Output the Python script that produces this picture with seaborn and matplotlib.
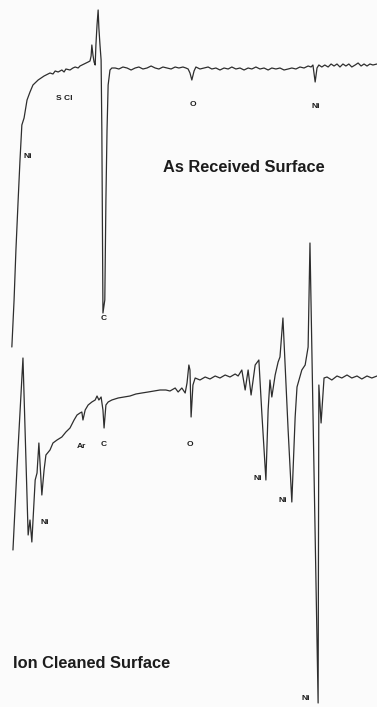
import numpy as np
import pandas as pd
import matplotlib
matplotlib.use("Agg")
import matplotlib.pyplot as plt
import seaborn as sns

# --------------------------------------------------------------
# 1. Data (dN/dE, arb. units)
# --------------------------------------------------------------

# As received surface: electron energy (eV) and derivative signal
received_energy = [
    23, 29, 34, 40, 45, 50, 56, 64, 72, 80, 94, 110, 126, 134, 140, 148,
    158, 164, 169, 180, 188, 194, 202, 207, 218, 229, 234, 237, 239, 242,
    245, 248, 250, 253, 256, 258, 261, 264, 266, 269, 274, 277, 280, 283,
    288, 293, 302, 312, 323, 334, 345, 356, 366, 377, 388, 399, 410, 420,
    431, 442, 453, 464, 474, 485, 493, 499, 504, 509, 515, 520, 531, 542,
    553, 563, 574, 585, 596, 607, 617, 628, 639, 650, 661, 671, 682, 693,
    704, 715, 725, 736, 747, 758, 769, 779, 790, 801, 812, 823, 831, 836,
    842, 847, 852, 860, 868, 877, 885, 893, 901, 909, 917, 925, 933, 941,
    950, 958, 966, 974, 982, 990, 998, 1009,
]
received_signal = [
    -279, -232, -182, -132, -92, -57, -50, -32, -24, -17, -12, -8, -5, -6,
    -3, -4, -2, -4, -1, -2, 0, 1, 0, 2, 4, 6, 7, 12, 23, 13,
    6, 3, 23, 43, 58, 40, 23, 8, -62, -245, -232, -132, -62, -17,
    -2, 0, 0, -1, 1, 0, -2, 0, 1, -1, 0, 2, 0, -1,
    1, 0, -1, 1, 0, 1, 0, -1, -5, -12, -3, 1, -1, 0,
    1, -1, 0, -2, 0, -1, 1, -1, 0, -2, 0, -1, 1, -1,
    0, -2, 0, -1, 0, -2, -1, 0, -1, 1, 0, 2, 1, 3,
    -14, 0, 3, 1, 3, 1, 4, 2, 4, 1, 4, 2, 4, 1,
    3, 5, 2, 4, 2, 4, 3, 4,
]

# Ion cleaned surface
cleaned_energy = [
    26, 37, 53, 67, 72, 77, 86, 91, 96, 104, 110, 115, 126, 134, 145, 158,
    169, 180, 191, 199, 207, 212, 215, 221, 229, 239, 248, 253, 258, 264,
    269, 272, 277, 283, 293, 310, 326, 342, 358, 374, 391, 407, 423, 439,
    450, 464, 472, 482, 491, 496, 501, 504, 507, 512, 518, 531, 545, 558,
    572, 585, 599, 612, 626, 634, 644, 653, 661, 669, 680, 690, 698, 709,
    715, 720, 725, 734, 742, 747, 755, 769, 779, 788, 793, 806, 815, 823,
    828, 850, 852, 858, 866, 874, 887, 901, 914, 928, 941, 955, 968, 982,
    995, 1009,
]
cleaned_signal = [
    -172, -89, 20, -157, -142, -164, -102, -95, -65, -117, -92, -77, -72,
    -65, -62, -59, -54, -50, -42, -37, -35, -34, -42, -32, -27, -24, -22,
    -18, -22, -19, -32, -50, -27, -24, -22, -20, -19, -18, -16, -15, -14,
    -13, -12, -12, -13, -10, -14, -10, -15, -5, 13, 8, -39, -7, 0, -2, 1,
    -1, 2, 0, 3, 1, 4, 2, 8, -12, 8, -17, 13, 18, -35, -102, -32, -2, -19,
    3, 16, 21, 60, -52, -124, -39, -9, 8, 13, 31, 135, -325, -7, -45, 0, 1,
    -2, 2, 0, 3, 0, 2, -1, 2, 0, 2,
]

# Peak labels: (text, energy, height)
received_labels = [("Ni", 67, -157), ("S Cl", 164, -98), ("C", 272, -318),
                   ("O", 512, -104), ("Ni", 844, -107)]
cleaned_labels = [("Ni", 113, -522), ("Ar", 212, -446), ("C", 272, -445),
                  ("O", 504, -445), ("Ni", 688, -478), ("Ni", 755, -500),
                  ("Ni", 817, -698)]

received_offset = -68
cleaned_offset = -378

# --------------------------------------------------------------
# 2. Build frames
# --------------------------------------------------------------

df = pd.concat([
    pd.DataFrame({"Energy": received_energy,
                  "dNdE": np.array(received_signal) + received_offset,
                  "Surface": "As Received"}),
    pd.DataFrame({"Energy": cleaned_energy,
                  "dNdE": np.array(cleaned_signal) + cleaned_offset,
                  "Surface": "Ion Cleaned"}),
])

# --------------------------------------------------------------
# 3. Plot
# --------------------------------------------------------------

sns.set_style("white")
plt.rcParams["font.family"] = ["Liberation Sans", "DejaVu Sans"]

fig = plt.figure(figsize=(3.77, 7.07), dpi=100, facecolor="#fbfbfb")
ax = fig.add_axes([0, 0, 1, 1])
ax.set_facecolor("#fbfbfb")

sns.lineplot(data=df, x="Energy", y="dNdE", units="Surface", estimator=None,
             sort=False, color="#2e2e2e", linewidth=0.9, ax=ax)

for text, e, h in received_labels + cleaned_labels:
    ax.text(e, h, text, fontsize=6, fontweight="bold", color="#1c1c1c",
            ha="center", va="center")

ax.text(430, -167, "As Received Surface", fontsize=11.8, fontweight="bold",
        color="#1c1c1c", ha="left", va="center")
ax.text(26, -663, "Ion Cleaned Surface", fontsize=11.8, fontweight="bold",
        color="#1c1c1c", ha="left", va="center")

ax.set_xlim(-9, 1009)
ax.set_ylim(-707, 0)
ax.axis("off")

fig.savefig("out.png", dpi=100, facecolor=fig.get_facecolor())
